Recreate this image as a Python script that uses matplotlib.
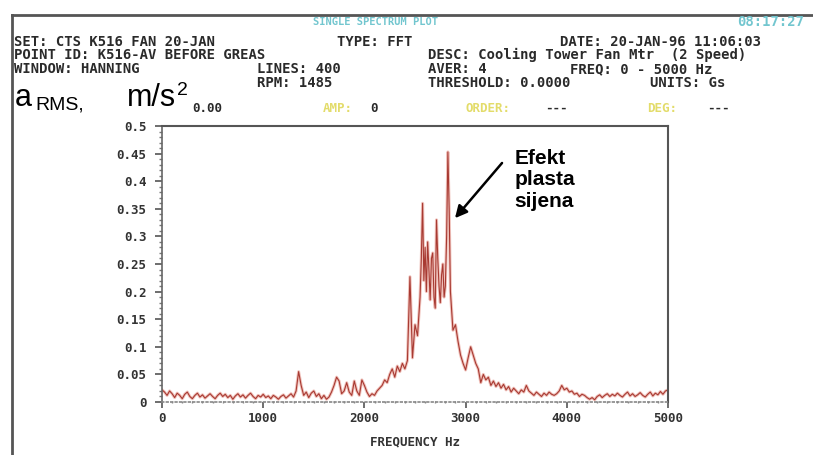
import matplotlib.pyplot as plt
import numpy as np
from matplotlib.lines import Line2D
from matplotlib.ticker import MultipleLocator

# spectrum amplitude
# 0 .. 2525 Hz, every 25 Hz
amp_low = [
    0.022, 0.018, 0.012, 0.020, 0.015, 0.008, 0.016, 0.012, 0.006, 0.014,
    0.018, 0.010, 0.006, 0.012, 0.016, 0.009, 0.013, 0.007, 0.011, 0.015,
    0.010, 0.006, 0.012, 0.016, 0.010, 0.014, 0.008, 0.012, 0.005, 0.011,
    0.015, 0.009, 0.013, 0.007, 0.012, 0.016, 0.010, 0.006, 0.012, 0.009,
    0.014, 0.008, 0.011, 0.006, 0.012, 0.009, 0.005, 0.010, 0.013, 0.007,
    0.011, 0.015, 0.009, 0.020, 0.055, 0.030, 0.012, 0.018, 0.008, 0.016,
    0.020, 0.010, 0.015, 0.006, 0.012, 0.005, 0.009, 0.018, 0.030, 0.045,
    0.038, 0.015, 0.020, 0.035, 0.018, 0.012, 0.038, 0.020, 0.012, 0.040,
    0.030, 0.018, 0.010, 0.015, 0.012, 0.020, 0.025, 0.030, 0.040, 0.035,
    0.050, 0.060, 0.045, 0.065, 0.055, 0.070, 0.060, 0.075, 0.227, 0.080,
    0.140, 0.120,
]
# 2550 .. 2837.5 Hz, every 12.5 Hz (dense band)
amp_band = [
    0.190, 0.260, 0.360, 0.220, 0.280, 0.200, 0.290, 0.240, 0.185, 0.260,
    0.270, 0.190, 0.170, 0.330, 0.260, 0.210, 0.180, 0.230, 0.250, 0.190,
    0.210, 0.300, 0.453, 0.350,
]
# 2850 .. 5000 Hz, every 25 Hz
amp_high = [
    0.200, 0.130, 0.140, 0.110, 0.085, 0.070,
    0.058, 0.080, 0.100, 0.085, 0.070, 0.060, 0.035, 0.050, 0.040, 0.045,
    0.030, 0.038, 0.028, 0.035, 0.025, 0.032, 0.022, 0.028, 0.018, 0.025,
    0.020, 0.015, 0.022, 0.018, 0.030, 0.020, 0.016, 0.012, 0.018, 0.014,
    0.010, 0.016, 0.012, 0.018, 0.014, 0.012, 0.015, 0.020, 0.030, 0.022,
    0.025, 0.018, 0.020, 0.014, 0.016, 0.010, 0.014, 0.012, 0.008, 0.005,
    0.008, 0.004, 0.010, 0.013, 0.008, 0.012, 0.015, 0.010, 0.014, 0.011,
    0.016, 0.012, 0.009, 0.014, 0.018, 0.011, 0.015, 0.010, 0.013, 0.017,
    0.012, 0.009, 0.014, 0.018, 0.011, 0.016, 0.013, 0.019, 0.014, 0.020,
    0.022,
]
freq = np.concatenate([np.arange(0, 2550, 25.0),
                       np.arange(2550, 2850, 12.5),
                       np.arange(2850, 5001, 25.0)])
amp = amp_low + amp_band + amp_high

yticks = [0, 0.05, 0.1, 0.15, 0.2, 0.25, 0.3, 0.35, 0.4, 0.45, 0.5]
ylabels = ["0", "0.05", "0.1", "0.15", "0.2", "0.25", "0.3", "0.35", "0.4", "0.45", "0.5"]
xticks = [0, 1000, 2000, 3000, 4000, 5000]
xlabels = ["0", "1000", "2000", "3000", "4000", "5000"]

W, H = 813, 455
MONO = "DejaVu Sans Mono"
DARK = "#2a2a2a"
CYAN = "#72c6cf"
YELLOW = "#e3dc6a"


def px(x, y):
    # pixel position from top-left -> figure fraction
    return x / W, 1 - y / H


fig = plt.figure(figsize=(W / 100, H / 100), dpi=100)
fig.patch.set_facecolor("white")

# outer screen frame
fig.add_artist(Line2D([12 / W, 1], [1 - 15 / H] * 2, color="#555555", lw=2))
fig.add_artist(Line2D([12 / W] * 2, [0, 1 - 15 / H], color="#555555", lw=2))

# header block
header = [
    (375, 22, "SINGLE SPECTRUM PLOT", CYAN, "center", 7.5, "bold"),
    (737, 22, "08:17:27", CYAN, "left", 10, "bold"),
    (14, 42, "SET: CTS K516 FAN 20-JAN", DARK, "left", 10, "bold"),
    (337, 42, "TYPE: FFT", DARK, "left", 10, "bold"),
    (560, 42, "DATE: 20-JAN-96 11:06:03", DARK, "left", 10, "bold"),
    (14, 55, "POINT ID: K516-AV BEFORE GREAS", DARK, "left", 10, "bold"),
    (428, 55, "DESC: Cooling Tower Fan Mtr  (2 Speed)", DARK, "left", 10, "bold"),
    (14, 69, "WINDOW: HANNING", DARK, "left", 10, "bold"),
    (257, 69, "LINES: 400", DARK, "left", 10, "bold"),
    (428, 69, "AVER: 4", DARK, "left", 10, "bold"),
    (570, 69, "FREQ: 0 - 5000 Hz", DARK, "left", 10, "bold"),
    (257, 83, "RPM: 1485", DARK, "left", 10, "bold"),
    (428, 83, "THRESHOLD: 0.0000", DARK, "left", 10, "bold"),
    (650, 83, "UNITS: Gs", DARK, "left", 10, "bold"),
    (192, 108, "0.00", DARK, "left", 9, "bold"),
    (323, 108, "AMP:", YELLOW, "left", 9, "bold"),
    (370, 108, "0", DARK, "left", 9, "bold"),
    (465, 108, "ORDER:", YELLOW, "left", 9, "bold"),
    (545, 108, "---", DARK, "left", 9, "bold"),
    (647, 108, "DEG:", YELLOW, "left", 9, "bold"),
    (707, 108, "---", DARK, "left", 9, "bold"),
]
for x, y, s, c, ha, size, weight in header:
    fig.text(*px(x, y), s, color=c, ha=ha, va="center", fontsize=size,
             family=MONO, fontweight=weight)

# unit label a_RMS, m/s^2
fig.text(*px(15, 106), "a", fontsize=22, family="Liberation Sans", va="baseline")
fig.text(*px(35, 110), "RMS,", fontsize=14, family="Liberation Sans", va="baseline")
fig.text(*px(127, 106), "m/s", fontsize=22, family="Liberation Sans", va="baseline")
fig.text(*px(177, 95), "2", fontsize=14, family="Liberation Sans", va="baseline")

# spectrum axes
ax = fig.add_axes([162 / W, 53 / H, 506 / W, 276 / H])
ax.plot(freq, amp, color="#eaa9a0", lw=2.2, alpha=0.7)
ax.plot(freq, amp, color="#a83a32", lw=0.8)

ax.set_xlim(0, 5000)
ax.set_ylim(0, 0.5)
ax.set_xticks(xticks)
ax.set_xticklabels(xlabels)
ax.set_yticks(yticks)
ax.set_yticklabels(ylabels)
ax.xaxis.set_minor_locator(MultipleLocator(100))
ax.yaxis.set_minor_locator(MultipleLocator(0.01))

for lab in ax.get_xticklabels() + ax.get_yticklabels():
    lab.set_family(MONO)
    lab.set_fontweight("bold")
    lab.set_fontsize(9)
    lab.set_color("#333333")

ax.tick_params(axis="y", which="major", length=5, width=1.2, color="#555555", pad=6)
ax.tick_params(axis="y", which="minor", length=2, width=1, color="#777777")
ax.tick_params(axis="x", which="major", length=4, width=1.2, color="#555555", pad=3)
ax.tick_params(axis="x", which="minor", length=2, width=1, color="#888888",
               direction="inout")

for side in ["top", "right"]:
    ax.spines[side].set_color("#555555")
    ax.spines[side].set_linewidth(1.5)
ax.spines["left"].set_color("#666666")
ax.spines["left"].set_linewidth(1.2)
ax.spines["bottom"].set_color("#888888")
ax.spines["bottom"].set_linestyle(":")
ax.spines["bottom"].set_linewidth(1.2)

ax.set_xlabel("FREQUENCY Hz", family=MONO, fontweight="bold", fontsize=9,
              color="#333333", labelpad=8)

# annotation
ax.annotate("", xy=(2895, 0.333), xytext=(3360, 0.433),
            arrowprops=dict(arrowstyle="-|>", color="black", lw=1.8,
                            mutation_scale=18, shrinkA=0, shrinkB=0))
ax.text(3480, 0.458, "Efekt\nplasta\nsijena", family="Liberation Sans",
        fontweight="bold", fontsize=15, va="top", ha="left", linespacing=1.15)

fig.savefig("out.png", dpi=100)
